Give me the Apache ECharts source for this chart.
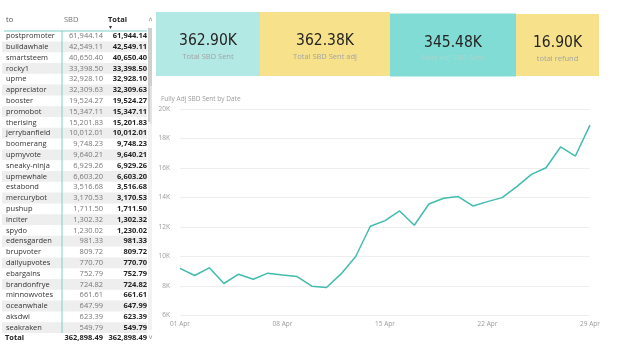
<!DOCTYPE html>
<html>
<head>
<meta charset="utf-8">
<script src="https://cdn.jsdelivr.net/npm/echarts@6/dist/echarts.min.js"></script>
<style>html,body{margin:0;padding:0;background:#fff;}#c{width:620px;height:346px;}</style>
</head>
<body>
<div id="c"></div>
<script>
// ---- Table data ----
const names = ["postpromoter","buildawhale","smartsteem","rocky1","upme","appreciator","booster","promobot","therising","jerrybanfield","boomerang","upmyvote","sneaky-ninja","upmewhale","estabond","mercurybot","pushup","inciter","spydo","edensgarden","brupvoter","dailyupvotes","ebargains","brandonfrye","minnowvotes","oceanwhale","aksdwi","seakraken"];
const sbd = [61944.14,42549.11,40650.40,33398.50,32928.10,32309.63,19524.27,15347.11,15201.83,10012.01,9748.23,9640.21,6929.26,6603.20,3516.68,3170.53,1711.50,1302.32,1230.02,981.33,809.72,770.70,752.79,724.82,661.61,647.99,623.39,549.79];
const totals = [61944.14,42549.11,40650.40,33398.50,32928.10,32309.63,19524.27,15347.11,15201.83,10012.01,9748.23,9640.21,6929.26,6603.20,3516.68,3170.53,1711.50,1302.32,1230.02,981.33,809.72,770.70,752.79,724.82,661.61,647.99,623.39,549.79];
const tableHeaders = ["to","SBD","Total"];
const totalRowValues = [362898.49, 362898.49];

// ---- KPI cards ----
const kpiValues = ["362.90K","362.38K","345.48K","16.90K"];
const kpiLabels = ["Total SBD Sent","Total SBD Sent adj","Fully Adj SBD Sent","total refund"];

// ---- Line chart ----
const chartTitle = "Fully Adj SBD Sent by Date";
const dates = ["01 Apr","02 Apr","03 Apr","04 Apr","05 Apr","06 Apr","07 Apr","08 Apr","09 Apr","10 Apr","11 Apr","12 Apr","13 Apr","14 Apr","15 Apr","16 Apr","17 Apr","18 Apr","19 Apr","20 Apr","21 Apr","22 Apr","23 Apr","24 Apr","25 Apr","26 Apr","27 Apr","28 Apr","29 Apr"];
const fullyAdj = [9200,8710,9230,8170,8800,8460,8870,8750,8640,7990,7900,8820,10000,12050,12430,13090,12120,13560,13950,14060,13430,13720,13990,14740,15570,16020,17440,16810,18910];

const fmt = v => v.toLocaleString('en-US',{minimumFractionDigits:2,maximumFractionDigits:2});
const FONT = '"Segoe UI","Open Sans",sans-serif';

const graphics = [];
// table layout
const rowH = 10.8, row0 = 36;
names.forEach((n,i)=>{
  const y = row0 + i*rowH;
  if (i % 2 === 1) {
    graphics.push({type:'rect', shape:{x:2,y:y-rowH/2,width:145,height:rowH}, style:{fill:'#eeeeee'}, z:0});
  }
  graphics.push({type:'text', x:6, y:y, style:{text:n, font:'7.5px '+FONT, fill:'#333', align:'left', verticalAlign:'middle'}, z:2});
  graphics.push({type:'text', x:103, y:y, style:{text:fmt(sbd[i]), font:'7.5px '+FONT, fill:'#777', align:'right', verticalAlign:'middle'}, z:2});
  graphics.push({type:'text', x:147, y:y, style:{text:fmt(totals[i]), font:'bold 7.5px '+FONT, fill:'#252423', align:'right', verticalAlign:'middle'}, z:2});
});
// header
graphics.push({type:'text', x:6, y:20, style:{text:tableHeaders[0], font:'7.5px '+FONT, fill:'#555', align:'left', verticalAlign:'middle'}});
graphics.push({type:'text', x:64, y:20, style:{text:tableHeaders[1], font:'7.5px '+FONT, fill:'#777', align:'left', verticalAlign:'middle'}});
graphics.push({type:'text', x:108, y:20, style:{text:tableHeaders[2], font:'bold 7.5px '+FONT, fill:'#252423', align:'left', verticalAlign:'middle'}});
graphics.push({type:'text', x:110, y:27, style:{text:'▾', font:'6px '+FONT, fill:'#333', align:'center', verticalAlign:'middle'}});
graphics.push({type:'line', shape:{x1:4,y1:31,x2:147,y2:31}, style:{stroke:'#7ccfc8', lineWidth:1}});
graphics.push({type:'line', shape:{x1:62,y1:31,x2:62,y2:333}, style:{stroke:'#7ccfc8', lineWidth:1}});
// total row
graphics.push({type:'text', x:5, y:337.5, style:{text:'Total', font:'bold 7.5px '+FONT, fill:'#252423', align:'left', verticalAlign:'middle'}});
graphics.push({type:'text', x:103, y:337.5, style:{text:fmt(totalRowValues[0]), font:'bold 7.5px '+FONT, fill:'#252423', align:'right', verticalAlign:'middle'}});
graphics.push({type:'text', x:147, y:337.5, style:{text:fmt(totalRowValues[1]), font:'bold 7.5px '+FONT, fill:'#252423', align:'right', verticalAlign:'middle'}});
// scrollbar
graphics.push({type:'rect', shape:{x:148,y:28,width:4,height:302}, style:{fill:'#f2f2f2'}});
graphics.push({type:'rect', shape:{x:148,y:28,width:4,height:94}, style:{fill:'#cfcfcf'}});
graphics.push({type:'text', x:150.5, y:20, style:{text:'˄', font:'7px '+FONT, fill:'#888', align:'center', verticalAlign:'middle'}});
graphics.push({type:'text', x:150.5, y:338, style:{text:'˅', font:'7px '+FONT, fill:'#888', align:'center', verticalAlign:'middle'}});
graphics.push({type:'rect', shape:{x:150,y:86,width:2,height:38}, style:{fill:'#e4e4e4'}});

// KPI cards
const cardX = [156,260,390,516,599];
const cardTop = [12,12,13.5,14];
const cardBot = [76,76,76.5,76];
const cardFill = ['#b3e9e5','#f7e28b','#80dcd4','#f7e28b'];
const labelFill = ['#a3a3a3','#a3a3a3','#a8d6d1','#a3a3a3'];
kpiValues.forEach((v,i)=>{
  const x0 = cardX[i], x1 = cardX[i+1], cx=(x0+x1)/2;
  graphics.push({type:'rect', shape:{x:x0,y:cardTop[i],width:x1-x0,height:cardBot[i]-cardTop[i]}, style:{fill:cardFill[i]}, z:0});
  graphics.push({type:'text', x:cx, y:cardTop[i]+29, style:{text:v, font:'15.5px "DejaVu Sans Condensed","Roboto",sans-serif', fill:'#252423', align:'center', verticalAlign:'middle'}, z:2});
  graphics.push({type:'text', x:cx, y:cardTop[i]+44.5, style:{text:kpiLabels[i], font:'7.5px '+FONT, fill:labelFill[i], align:'center', verticalAlign:'middle'}, z:2});
});

// chart title
graphics.push({type:'text', x:161, y:99.5, style:{text:chartTitle, font:'6.5px '+FONT, fill:'#9a9a9a', align:'left', verticalAlign:'middle'}});

const chart = echarts.init(document.getElementById('c'), null, {renderer:'canvas'});
chart.setOption({
  animation:false,
  backgroundColor:'#ffffff',
  graphic:{elements:graphics},
  grid:{left:180, right:30, top:109, bottom:30.5, containLabel:false},
  xAxis:{
    type:'category', data:dates, boundaryGap:false,
    axisLine:{show:false}, axisTick:{show:false},
    axisLabel:{interval:6, color:'#9a9a9a', fontSize:6.5, fontFamily:FONT, margin:5},
    splitLine:{show:false}
  },
  yAxis:{
    type:'value', min:6000, max:20000, interval:2000,
    axisLine:{show:false}, axisTick:{show:false},
    axisLabel:{formatter:v=>(v/1000)+'K', color:'#9a9a9a', fontSize:6.5, fontFamily:FONT, margin:10},
    splitLine:{lineStyle:{color:'#eeeeee', width:1}}
  },
  series:[{
    type:'line', data:fullyAdj, symbol:'none', smooth:false,
    lineStyle:{color:'#41bcae', width:1.5}
  }]
});
</script>
</body>
</html>
